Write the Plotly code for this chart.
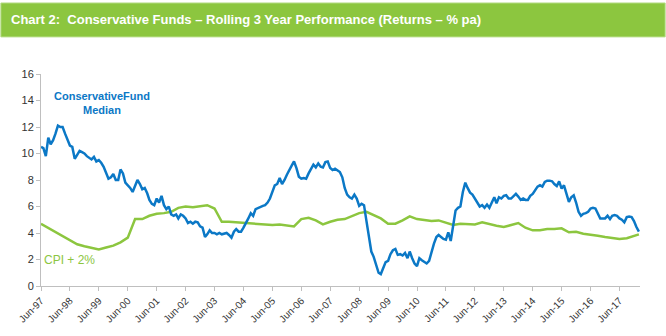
import pandas as pd
import plotly.graph_objects as go

# Conservative Fund Median, monthly from Jun-97 to Feb-18 (% pa)
median = [
    10.5, 10.4, 9.8, 11.2, 10.7, 11.0, 11.5, 12.1, 12.0, 12.0, 11.5, 11.0,
    10.6, 10.5, 9.6, 9.9, 10.2, 10.1, 10.0, 9.8, 9.7, 9.55, 9.75, 9.4,
    9.5, 9.3, 9.0, 8.6, 8.1, 8.2, 8.45, 8.0, 8.0, 8.8, 8.5, 7.8,
    7.6, 7.4, 7.1, 7.6, 8.0, 7.7, 7.3, 7.4, 7.0, 6.5, 6.2, 6.1,
    6.6, 6.3, 6.8, 6.1, 5.8, 6.0, 5.4, 5.3, 5.4, 5.1, 5.4, 5.3,
    5.1, 4.75, 4.85, 4.7, 4.85, 4.8, 4.5, 4.4, 3.7, 3.9, 4.2, 4.0,
    4.0, 3.9, 4.0, 3.9, 3.95, 4.0, 3.85, 3.65, 4.1, 4.3, 4.1, 4.1,
    4.4, 4.7, 5.1, 5.5, 5.3, 5.8, 5.9, 6.0, 6.05, 6.1, 6.3, 6.6,
    7.2, 7.6, 7.7, 8.15, 7.7, 8.0, 8.4, 8.8, 9.1, 9.4, 8.9, 8.25,
    8.1, 8.15, 8.1, 8.5, 8.8, 9.15, 8.95, 9.25, 9.0, 8.95, 9.35, 9.4,
    8.9, 8.75, 8.85, 8.75, 8.6, 8.2, 7.4, 6.9, 6.7, 6.6, 6.9, 6.6,
    6.05, 6.2, 6.1, 4.9, 3.7, 2.6, 2.2, 1.6, 1.0, 0.9, 1.3, 1.8,
    1.9, 2.4, 2.7, 2.8, 2.35, 2.4, 2.3, 2.5, 2.1, 2.6, 2.1, 1.7,
    1.5, 2.1, 1.95, 1.85, 1.7, 1.9, 2.6, 3.2, 3.7, 3.85, 3.7, 3.55,
    3.5, 4.05, 3.4, 4.5, 5.7, 5.9, 6.0, 7.1, 7.8, 7.4, 7.05, 6.9,
    6.6, 6.3, 6.0, 6.1, 5.9, 6.15, 5.9, 6.3, 6.7, 6.25, 6.7, 6.6,
    6.8, 6.85, 6.6, 6.6, 6.8, 6.95, 6.75, 6.5, 6.6, 6.5, 6.5, 6.8,
    6.95, 7.2, 7.5, 7.6, 7.5, 7.85, 7.95, 7.95, 7.9, 7.7, 7.55, 7.9,
    7.35, 7.6, 7.0, 6.35, 6.7, 6.85, 6.3, 5.6, 5.3, 5.45, 5.5, 5.6,
    5.85, 5.9, 5.85, 5.5, 5.1, 5.1, 5.1, 5.3, 5.05, 5.3, 5.35, 5.3,
    5.1, 5.0, 4.8, 5.2, 5.25, 5.2, 4.9, 4.45, 4.1,
]

# CPI + 2%, quarterly from Jun-97, plus final Feb-18 reading
cpi_quarterly = [
    4.7, 4.4, 4.1, 3.75, 3.45, 3.15, 3.0, 2.9, 2.75, 2.9, 3.05, 3.3,
    3.65, 5.05, 5.05, 5.3, 5.45, 5.5, 5.6, 5.9, 6.0, 5.95, 6.0, 6.1,
    5.85, 4.85, 4.85, 4.8, 4.75, 4.7, 4.65, 4.65, 4.6, 4.65, 4.6, 4.5,
    5.05, 5.15, 4.95, 4.65, 4.85, 5.0, 5.05, 5.25, 5.5, 5.6, 5.35, 5.1,
    4.7, 4.7, 4.95, 5.25, 5.05, 5.0, 4.9, 4.95, 4.8, 4.6, 4.7, 4.7,
    4.65, 4.8, 4.65, 4.55, 4.45, 4.6, 4.75, 4.4, 4.2, 4.2, 4.3, 4.3,
    4.35, 4.05, 4.1, 3.95, 3.9, 3.8, 3.7, 3.65, 3.55, 3.6, 3.75,
]
cpi_last_date = "2018-02-01"
cpi_last_value = 3.9

tick_dates = pd.date_range("1997-06-01", "2017-06-01", freq="12MS")
tick_labels = [d.strftime("%b-%y") for d in tick_dates]

median_dates = pd.date_range("1997-06-01", periods=len(median), freq="MS")
cpi_dates = list(pd.date_range("1997-06-01", periods=len(cpi_quarterly), freq="3MS")) + [pd.Timestamp(cpi_last_date)]
cpi_values = cpi_quarterly + [cpi_last_value]

BLUE = "#0b78c6"
GREEN = "#8cc63f"

fig = go.Figure()
fig.add_trace(go.Scatter(x=cpi_dates, y=cpi_values, mode="lines",
                         line=dict(color=GREEN, width=2.5), name="CPI + 2%"))
fig.add_trace(go.Scatter(x=median_dates, y=median, mode="lines",
                         line=dict(color=BLUE, width=2.5), name="Conservative Fund Median"))

fig.update_layout(
    width=666, height=336,
    margin=dict(l=41, r=26, t=74, b=50),
    paper_bgcolor="white", plot_bgcolor="white",
    showlegend=False,
    font=dict(family="Liberation Sans, Arial, sans-serif", color="#222222"),
    xaxis=dict(
        type="date",
        range=["1997-06-01", "2018-02-15"],
        tickmode="array", tickvals=tick_dates, ticktext=tick_labels,
        tickangle=-45, tickfont=dict(size=10, color="#333333"),
        showgrid=False, zeroline=False,
        showline=True, linecolor="#bfbfbf", linewidth=1,
        ticks="outside", ticklen=4, tickcolor="#bfbfbf",
    ),
    yaxis=dict(
        range=[0, 16], tickmode="linear", tick0=0, dtick=2,
        tickfont=dict(size=11, color="#333333"),
        showgrid=False, zeroline=False,
        showline=True, linecolor="#bfbfbf", linewidth=1,
        ticks="outside", ticklen=4, tickcolor="#bfbfbf",
    ),
)

# title bar
fig.add_shape(type="rect", xref="paper", yref="paper",
              x0=-0.067, x1=1.042, y0=1.175, y1=1.335,
              fillcolor=GREEN, line=dict(color="#b5dc86", width=1), layer="above")
fig.add_annotation(xref="paper", yref="paper", x=-0.053, y=1.255,
                   xanchor="left", yanchor="middle", showarrow=False,
                   text="<b>Chart 2:  Conservative Funds – Rolling 3 Year Performance (Returns – % pa)</b>",
                   font=dict(family="Liberation Sans Narrow, Arial Narrow, Liberation Sans, sans-serif",
                             size=13, color="white"))

# series labels
fig.add_annotation(x="1999-07-15", y=13.8, showarrow=False,
                   text="<b>ConservativeFund<br>Median</b>",
                   font=dict(size=11, color=BLUE))
fig.add_annotation(x="1998-06-01", y=1.95, showarrow=False,
                   text="CPI + 2%",
                   font=dict(size=12, color=GREEN))

fig.write_html("out.html")
